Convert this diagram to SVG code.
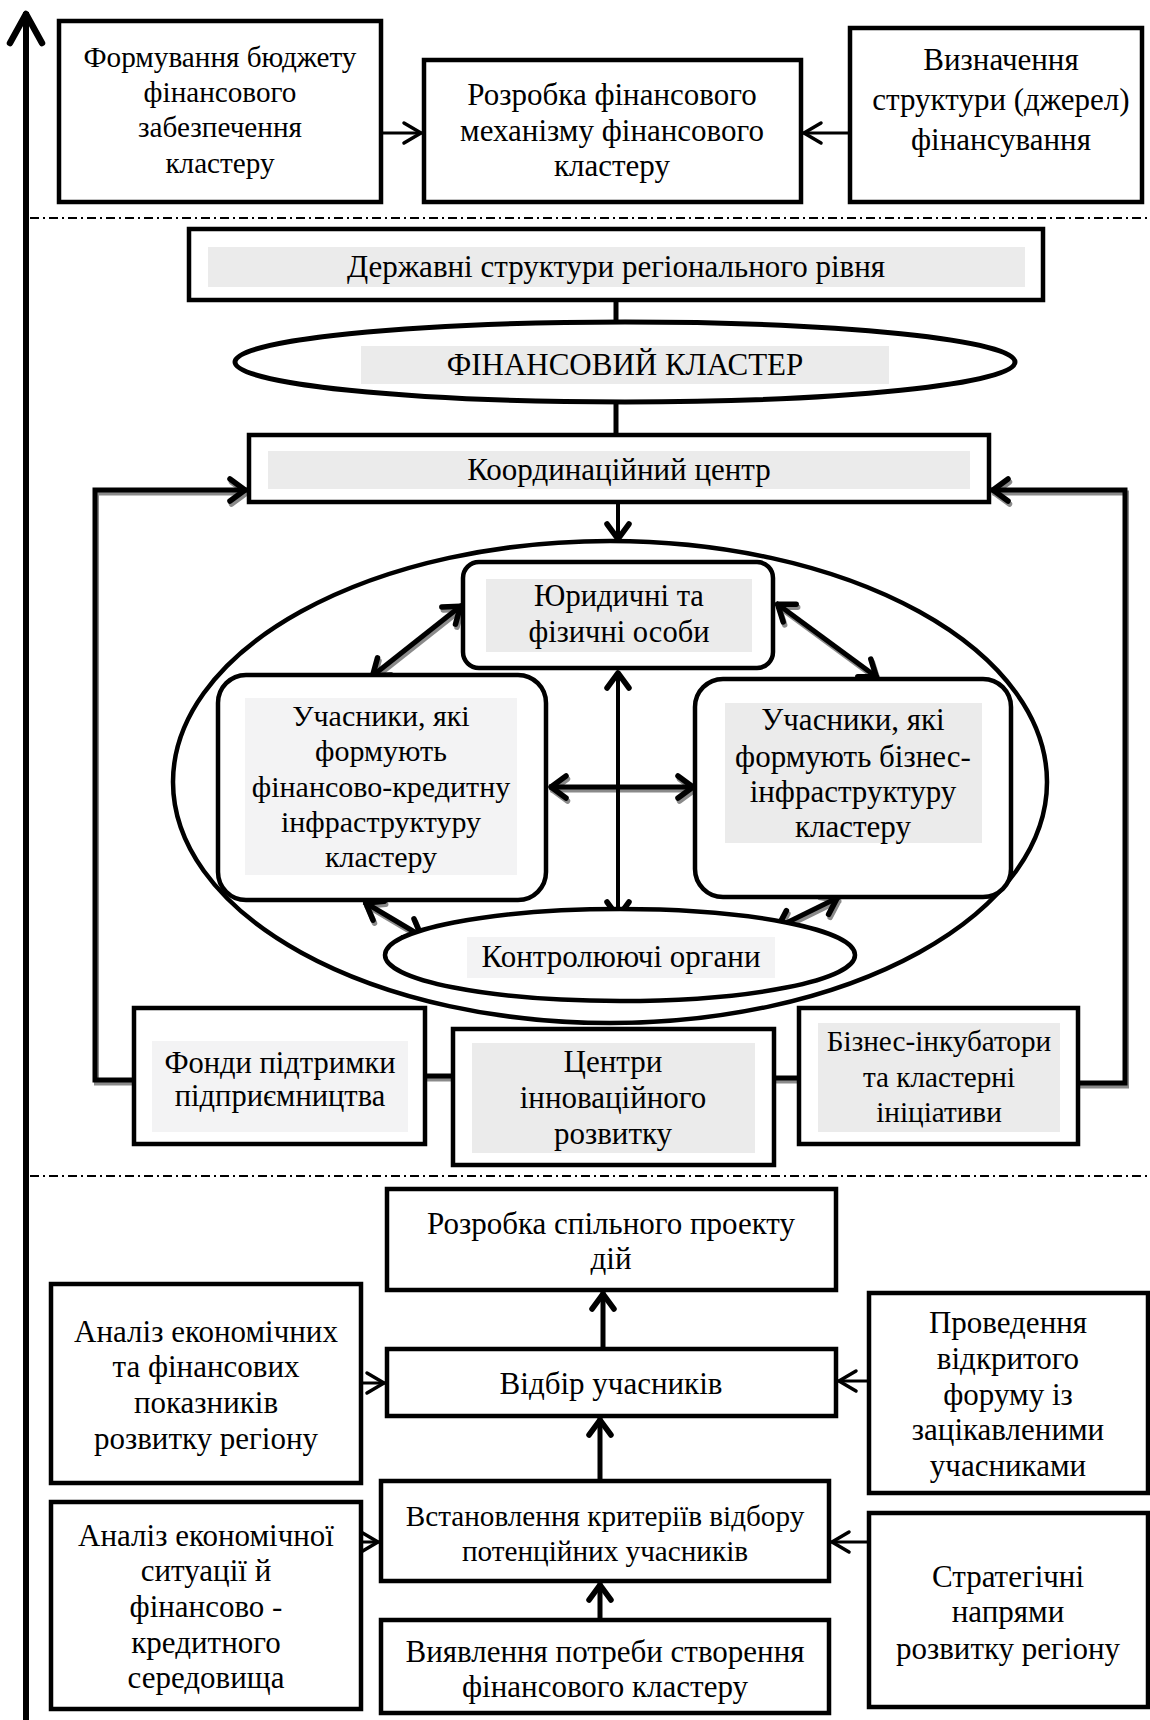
<svg xmlns="http://www.w3.org/2000/svg" width="1150" height="1720" viewBox="0 0 1150 1720">
<defs>
<style>
.box{fill:#fff;stroke:#000;stroke-width:4.5}
.g1{fill:#ebebeb}
.g2{fill:#f3f3f4}
.ln{fill:none;stroke:#000;stroke-width:3}
.lnb{fill:none;stroke:#000;stroke-width:5}
.sh{fill:none;stroke:#8a8a8a;stroke-width:5}
.dd{fill:none;stroke:#000;stroke-width:2;stroke-dasharray:9 4 2 4}
text{font-family:"Liberation Serif","Times New Roman",serif;font-size:31px;text-anchor:middle;fill:#000}
.f29 text{font-size:29.2px}
.f30 text{font-size:30px}
.f305 text{font-size:30.5px}
</style>
<marker id="ah" markerUnits="userSpaceOnUse" viewBox="-30 -20 34 40" markerWidth="34" markerHeight="40" refX="0" refY="0" orient="auto-start-reverse">
<path d="M -18 -10 L -1 0 L -18 10" fill="none" stroke="#000" stroke-width="3.5" stroke-linecap="round" stroke-linejoin="round"/>
</marker>
<marker id="ahb" markerUnits="userSpaceOnUse" viewBox="-30 -20 34 40" markerWidth="34" markerHeight="40" refX="0" refY="0" orient="auto-start-reverse">
<path d="M -17 -11 L -2 0 L -17 11" fill="none" stroke="#000" stroke-width="5.5" stroke-linecap="round" stroke-linejoin="round"/>
</marker>
<marker id="ahs" markerUnits="userSpaceOnUse" viewBox="-30 -20 34 40" markerWidth="34" markerHeight="40" refX="0" refY="0" orient="auto-start-reverse">
<path d="M -17 -11 L -2 0 L -17 11" fill="none" stroke="#8a8a8a" stroke-width="5.5" stroke-linecap="round" stroke-linejoin="round"/>
</marker>
<marker id="axh" markerUnits="userSpaceOnUse" viewBox="-40 -25 44 50" markerWidth="44" markerHeight="50" refX="0" refY="0" orient="auto">
<path d="M -31 -16 L -2 0 L -31 16" fill="none" stroke="#000" stroke-width="6.5" stroke-linecap="round" stroke-linejoin="round"/>
</marker>
</defs>

<g id="separators">
<line class="dd" x1="30" y1="218" x2="1150" y2="218"/>
<line class="dd" x1="30" y1="1176" x2="1150" y2="1176"/>
</g>

<g id="axis">
<line x1="26" y1="1720" x2="26" y2="12" stroke="#000" stroke-width="6" marker-end="url(#axh)"/>
</g>

<g id="connectors">
<line class="ln" x1="381" y1="133" x2="422" y2="133" marker-end="url(#ah)"/>
<line class="ln" x1="850" y1="133" x2="803" y2="133" marker-end="url(#ah)"/>
<line class="lnb" x1="616" y1="300" x2="616" y2="323"/>
<line class="lnb" x1="616" y1="402" x2="616" y2="435"/>
<line class="ln" style="stroke-width:4" x1="618" y1="502" x2="618" y2="541" marker-end="url(#ahb)"/>
<g transform="translate(1.5,3)">
<polyline class="sh" points="134,1080 95,1080 95,490 247,490" marker-end="url(#ahs)"/>
<polyline class="sh" points="1078,1083 1125,1083 1125,490 991,490" marker-end="url(#ahs)"/>
<line class="sh" x1="425" y1="1076" x2="453" y2="1076"/>
<line class="sh" x1="774" y1="1078" x2="799" y2="1078"/>
<line class="sh" x1="549" y1="787" x2="695" y2="787" marker-start="url(#ahs)" marker-end="url(#ahs)"/>
<line class="sh" x1="462" y1="605" x2="371" y2="677" marker-start="url(#ahs)" marker-end="url(#ahs)"/>
<line class="sh" x1="776" y1="603" x2="878" y2="678" marker-start="url(#ahs)" marker-end="url(#ahs)"/>
<line class="sh" x1="364" y1="902" x2="423" y2="937" marker-start="url(#ahs)" marker-end="url(#ahs)"/>
<line class="sh" x1="839" y1="897" x2="776" y2="928" marker-start="url(#ahs)" marker-end="url(#ahs)"/>
</g>
<polyline class="lnb" points="134,1080 95,1080 95,490 247,490" marker-end="url(#ahb)"/>
<polyline class="lnb" points="1078,1083 1125,1083 1125,490 991,490" marker-end="url(#ahb)"/>
<line class="lnb" x1="425" y1="1076" x2="453" y2="1076"/>
<line class="lnb" x1="774" y1="1078" x2="799" y2="1078"/>
<line class="lnb" x1="549" y1="787" x2="695" y2="787" marker-start="url(#ahb)" marker-end="url(#ahb)"/>
<line class="lnb" style="stroke-width:4" x1="618" y1="671" x2="618" y2="919" marker-start="url(#ahb)" marker-end="url(#ahb)"/>
<line class="lnb" x1="462" y1="605" x2="371" y2="677" marker-start="url(#ahb)" marker-end="url(#ahb)"/>
<line class="lnb" x1="776" y1="603" x2="878" y2="678" marker-start="url(#ahb)" marker-end="url(#ahb)"/>
<line class="lnb" x1="364" y1="902" x2="423" y2="937" marker-start="url(#ahb)" marker-end="url(#ahb)"/>
<line class="lnb" x1="839" y1="897" x2="776" y2="928" marker-start="url(#ahb)" marker-end="url(#ahb)"/>
<line class="lnb" x1="603" y1="1349" x2="603" y2="1292" marker-end="url(#ahb)"/>
<line class="lnb" x1="600" y1="1481" x2="600" y2="1418" marker-end="url(#ahb)"/>
<line class="lnb" x1="600" y1="1620" x2="600" y2="1583" marker-end="url(#ahb)"/>
<line class="ln" x1="361" y1="1383" x2="385" y2="1383" marker-end="url(#ah)"/>
<line class="ln" x1="869" y1="1381" x2="838" y2="1381" marker-end="url(#ah)"/>
<line class="ln" x1="361" y1="1542" x2="379" y2="1542" marker-end="url(#ah)"/>
<line class="ln" x1="869" y1="1542" x2="831" y2="1542" marker-end="url(#ah)"/>
</g>

<g id="budget" class="f29">
<rect class="box" x="59" y="21" width="322" height="181"/>
<text x="220" y="67">Формування бюджету</text>
<text x="220" y="102">фінансового</text>
<text x="220" y="137">забезпечення</text>
<text x="220" y="173">кластеру</text>
</g>
<g id="mechanism">
<rect class="box" x="424" y="60" width="377" height="142"/>
<text x="612" y="105">Розробка фінансового</text>
<text x="612" y="141">механізму фінансового</text>
<text x="612" y="176">кластеру</text>
</g>
<g id="structure">
<rect class="box" x="850" y="28" width="292" height="174"/>
<text x="1001" y="70">Визначення</text>
<text x="1001" y="110">структури (джерел)</text>
<text x="1001" y="150">фінансування</text>
</g>

<g id="state">
<rect class="box" x="189" y="229" width="854" height="71"/>
<rect class="g1" x="208" y="247" width="817" height="40"/>
<text x="616" y="277">Державні структури регіонального рівня</text>
</g>
<g id="cluster">
<ellipse class="box" cx="625" cy="362" rx="390" ry="40" style="stroke-width:5"/>
<rect class="g1" x="361" y="346" width="528" height="38"/>
<text x="625" y="375">ФІНАНСОВИЙ КЛАСТЕР</text>
</g>
<g id="coord">
<rect class="box" x="249" y="435" width="740" height="67"/>
<rect class="g1" x="268" y="451" width="702" height="38"/>
<text x="619" y="480">Координаційний центр</text>
</g>

<g id="inner-ellipse">
<ellipse cx="610" cy="782" rx="437" ry="241" fill="none" stroke="#000" stroke-width="4.5"/>
</g>
<g id="persons" class="f305">
<rect class="box" x="463" y="562" width="310" height="106" rx="16"/>
<rect class="g1" x="486" y="579" width="266" height="73"/>
<text x="619" y="606">Юридичні та</text>
<text x="619" y="642">фізичні особи</text>
</g>
<g id="fin-participants" class="f30">
<rect class="box" x="218" y="675" width="328" height="225" rx="28"/>
<rect class="g2" x="245" y="698" width="272" height="177"/>
<text x="381" y="726">Учасники, які</text>
<text x="381" y="761">формують</text>
<text x="381" y="797">фінансово-кредитну</text>
<text x="381" y="832">інфраструктуру</text>
<text x="381" y="867">кластеру</text>
</g>
<g id="biz-participants">
<rect class="box" x="695" y="679" width="316" height="218" rx="28"/>
<rect class="g1" x="725" y="703" width="257" height="140"/>
<text x="853" y="730">Учасники, які</text>
<text x="853" y="767">формують бізнес-</text>
<text x="853" y="802">інфраструктуру</text>
<text x="853" y="837">кластеру</text>
</g>
<g id="control">
<ellipse class="box" cx="620" cy="955" rx="235" ry="46"/>
<rect class="g2" x="467" y="937" width="308" height="41"/>
<text x="621" y="967">Контролюючі органи</text>
</g>

<g id="funds" class="f305">
<rect class="box" x="134" y="1008" width="291" height="136"/>
<rect class="g2" x="152" y="1041" width="256" height="91"/>
<text x="280" y="1073">Фонди підтримки</text>
<text x="280" y="1106">підприємництва</text>
</g>
<g id="innovation">
<rect class="box" x="453" y="1029" width="321" height="136"/>
<rect class="g1" x="472" y="1043" width="283" height="110"/>
<text x="613" y="1072">Центри</text>
<text x="613" y="1108">інноваційного</text>
<text x="613" y="1144">розвитку</text>
</g>
<g id="incubators" class="f29">
<rect class="box" x="799" y="1008" width="279" height="136"/>
<rect class="g1" x="818" y="1023" width="242" height="109"/>
<text x="939" y="1051">Бізнес-інкубатори</text>
<text x="939" y="1087">та кластерні</text>
<text x="939" y="1122">ініціативи</text>
</g>

<g id="project">
<rect class="box" x="387" y="1189" width="449" height="101"/>
<text x="611" y="1234">Розробка спільного проекту</text>
<text x="611" y="1269">дій</text>
</g>
<g id="selection">
<rect class="box" x="387" y="1349" width="449" height="67"/>
<text x="611" y="1394">Відбір учасників</text>
</g>
<g id="criteria" class="f29">
<rect class="box" x="381" y="1481" width="448" height="100"/>
<text x="605" y="1526">Встановлення критеріїв відбору</text>
<text x="605" y="1561">потенційних учасників</text>
</g>
<g id="need">
<rect class="box" x="381" y="1620" width="448" height="93"/>
<text x="605" y="1662">Виявлення потреби створення</text>
<text x="605" y="1697">фінансового кластеру</text>
</g>
<g id="analysis1">
<rect class="box" x="51" y="1284" width="310" height="199"/>
<text x="206" y="1342">Аналіз економічних</text>
<text x="206" y="1377">та фінансових</text>
<text x="206" y="1413">показників</text>
<text x="206" y="1449">розвитку регіону</text>
</g>
<g id="forum">
<rect class="box" x="869" y="1293" width="279" height="200"/>
<text x="1008" y="1333">Проведення</text>
<text x="1008" y="1369">відкритого</text>
<text x="1008" y="1405">форуму із</text>
<text x="1008" y="1440">зацікавленими</text>
<text x="1008" y="1476">учасниками</text>
</g>
<g id="analysis2">
<rect class="box" x="51" y="1502" width="310" height="207"/>
<text x="206" y="1546">Аналіз економічної</text>
<text x="206" y="1581">ситуації й</text>
<text x="206" y="1617">фінансово -</text>
<text x="206" y="1653">кредитного</text>
<text x="206" y="1688">середовища</text>
</g>
<g id="strategy">
<rect class="box" x="869" y="1513" width="279" height="194"/>
<text x="1008" y="1587">Стратегічні</text>
<text x="1008" y="1622">напрями</text>
<text x="1008" y="1659">розвитку регіону</text>
</g>
</svg>
